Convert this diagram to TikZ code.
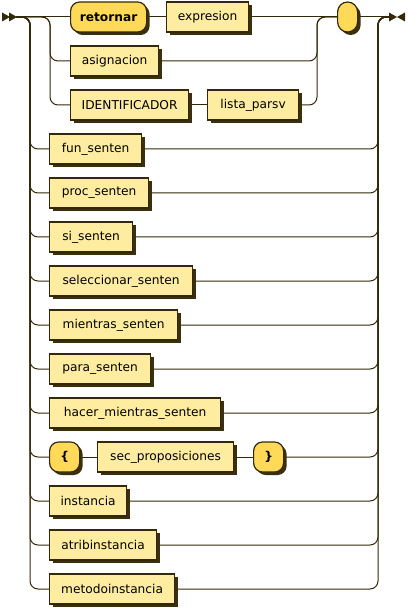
\documentclass[tikz,border=0pt]{standalone}
\usepackage{fontspec}
\setmainfont{DejaVu Sans}
\usetikzlibrary{shadows,backgrounds}
\definecolor{lncol}{HTML}{33290A}
\definecolor{ntfill}{HTML}{FEECA1}
\definecolor{tmfill}{HTML}{FFD957}
\definecolor{shcol}{HTML}{3A3010}
\begin{document}
\begin{tikzpicture}[x=1pt,y=-1pt,
  basebox/.style={draw=lncol, line width=1.2pt, minimum height=30pt, inner sep=0pt,
    anchor=west, font=\fontsize{12.2}{14}\selectfont, text=black,
    drop shadow={shadow xshift=3pt, shadow yshift=-3pt, fill=shcol, opacity=1}},
  ntbox/.style={basebox, fill=ntfill, rectangle},
  tmbox/.style={basebox, fill=tmfill, rounded corners=9pt, font=\fontsize{12.2}{14}\selectfont\bfseries},
  wire/.style={draw=lncol, line width=1pt, rounded corners=8pt}]
\useasboundingbox (0,0) rectangle (407,609);
% end markers
\fill[lncol] (2,12.5) -- (10,17) -- (2,21.5) -- cycle;
\fill[lncol] (9,12.5) -- (17,17) -- (9,21.5) -- cycle;
\fill[lncol] (389,12.5) -- (397,17) -- (389,21.5) -- cycle;
\fill[lncol] (405,12.5) -- (397,17) -- (405,21.5) -- cycle;
\coordinate (start) at (16,17);
\coordinate (end) at (389,17);
\coordinate (ol) at (30,17);
\coordinate (il) at (50,17);
\coordinate (ir) at (317,17);
\coordinate (or) at (378,17);
% nodes
\node[tmbox, minimum width=76pt] (ret) at (70,17) {retornar};
\node[ntbox, minimum width=82pt] (expr) at (166,17) {expresion};
\node[tmbox, minimum width=20pt, rounded corners=10pt] (emp) at (337,17) {};
\node[ntbox, minimum width=88pt] (asig) at (70,61) {asignacion};
\node[ntbox, minimum width=118pt] (ident) at (70,105) {IDENTIFICADOR};
\node[ntbox, minimum width=91pt] (lista) at (207,105) {lista\_parsv};
\node[ntbox, minimum width=92pt] (fun) at (49,149) {fun\_senten};
\node[ntbox, minimum width=99pt] (proc) at (49,193) {proc\_senten};
\node[ntbox, minimum width=83pt] (si) at (49,237) {si\_senten};
\node[ntbox, minimum width=143pt] (sel) at (49,281) {seleccionar\_senten};
\node[ntbox, minimum width=128pt] (mie) at (49,325) {mientras\_senten};
\node[ntbox, minimum width=101pt] (para) at (49,369) {para\_senten};
\node[ntbox, minimum width=171pt] (hac) at (49,413) {hacer\_mientras\_senten};
\node[tmbox, minimum width=30pt] (lbr) at (49,457) {\{};
\node[ntbox, minimum width=136pt] (sec) at (97,457) {sec\_proposiciones};
\node[tmbox, minimum width=30pt] (rbr) at (253,457) {\}};
\node[ntbox, minimum width=77pt] (inst) at (49,501) {instancia};
\node[ntbox, minimum width=107pt] (atr) at (49,545) {atribinstancia};
\node[ntbox, minimum width=125pt] (met) at (49,589) {metodoinstancia};
% wires
\begin{scope}[on background layer]
\draw[wire] (start) -- (ret.west);
\draw[wire] (ret.east) -- (expr.west);
\draw[wire] (expr.east) -- (emp.west);
\draw[wire] (emp.east) -- (end);
\draw[wire] (start) -- (il) |- (asig.west);
\draw[wire] (asig.east) -| (ir) -- (emp.west);
\draw[wire] (start) -- (il) |- (ident.west);
\draw[wire] (ident.east) -- (lista.west);
\draw[wire] (lista.east) -| (ir) -- (emp.west);
\foreach \n in {fun,proc,si,sel,mie,para,hac,inst,atr,met}{
  \draw[wire] (start) -- (ol) |- (\n.west);
  \draw[wire] (\n.east) -| (or) -- (end);
}
\draw[wire] (start) -- (ol) |- (lbr.west);
\draw[wire] (lbr.east) -- (sec.west);
\draw[wire] (sec.east) -- (rbr.west);
\draw[wire] (rbr.east) -| (or) -- (end);
\end{scope}
\end{tikzpicture}
\end{document}
